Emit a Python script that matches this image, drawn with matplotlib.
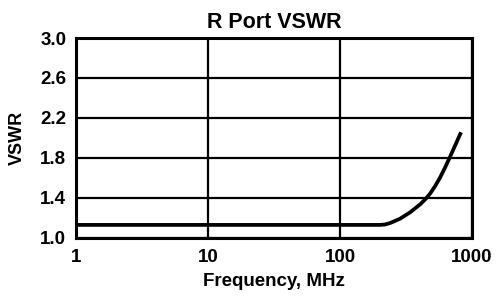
import matplotlib
matplotlib.use("Agg")
import matplotlib.pyplot as plt
from matplotlib.ticker import FixedLocator, FixedFormatter, NullLocator

freq_mhz = [1, 10, 100, 201, 219, 239, 285, 339, 404, 441, 481, 524,
            572, 624, 681, 743, 825]
vswr = [1.13, 1.13, 1.13, 1.13, 1.134, 1.148, 1.192, 1.255, 1.335, 1.384, 1.443, 1.516,
        1.603, 1.703, 1.811, 1.922, 2.057]

x_ticks = [1, 10, 100, 1000]
x_labels = ["1", "10", "100", "1000"]
y_ticks = [1.0, 1.4, 1.8, 2.2, 2.6, 3.0]
y_labels = ["1.0", "1.4", "1.8", "2.2", "2.6", "3.0"]

plt.rcParams["font.family"] = ["Liberation Sans", "DejaVu Sans"]
plt.rcParams["font.weight"] = "bold"

fig = plt.figure(figsize=(4.99, 2.97), dpi=100)
ax = fig.add_axes([0.152, 0.199, 0.794, 0.673])

ax.plot(freq_mhz, vswr, color="black", lw=2.7, solid_capstyle="butt",
        solid_joinstyle="round", zorder=3)

ax.set_xscale("log")
ax.set_xlim(1, 1000)
ax.set_ylim(1.0, 3.0)
ax.xaxis.set_major_locator(FixedLocator(x_ticks))
ax.xaxis.set_major_formatter(FixedFormatter(x_labels))
ax.xaxis.set_minor_locator(NullLocator())
ax.yaxis.set_major_locator(FixedLocator(y_ticks))
ax.yaxis.set_major_formatter(FixedFormatter(y_labels))

ax.grid(True, color="black", lw=1.6)
ax.tick_params(axis="x", length=0, labelsize=13.5, pad=8)
ax.tick_params(axis="y", length=0, labelsize=13.5, pad=7)
for s in ax.spines.values():
    s.set_linewidth(2.2)

ax.set_title("R Port VSWR", fontsize=15.5, fontweight="bold", pad=7)
ax.set_xlabel("Frequency, MHz", fontsize=13.5, fontweight="bold", labelpad=5)
ax.set_ylabel("VSWR", fontsize=13, fontweight="bold", labelpad=10)

fig.savefig("out.png", dpi=100)
